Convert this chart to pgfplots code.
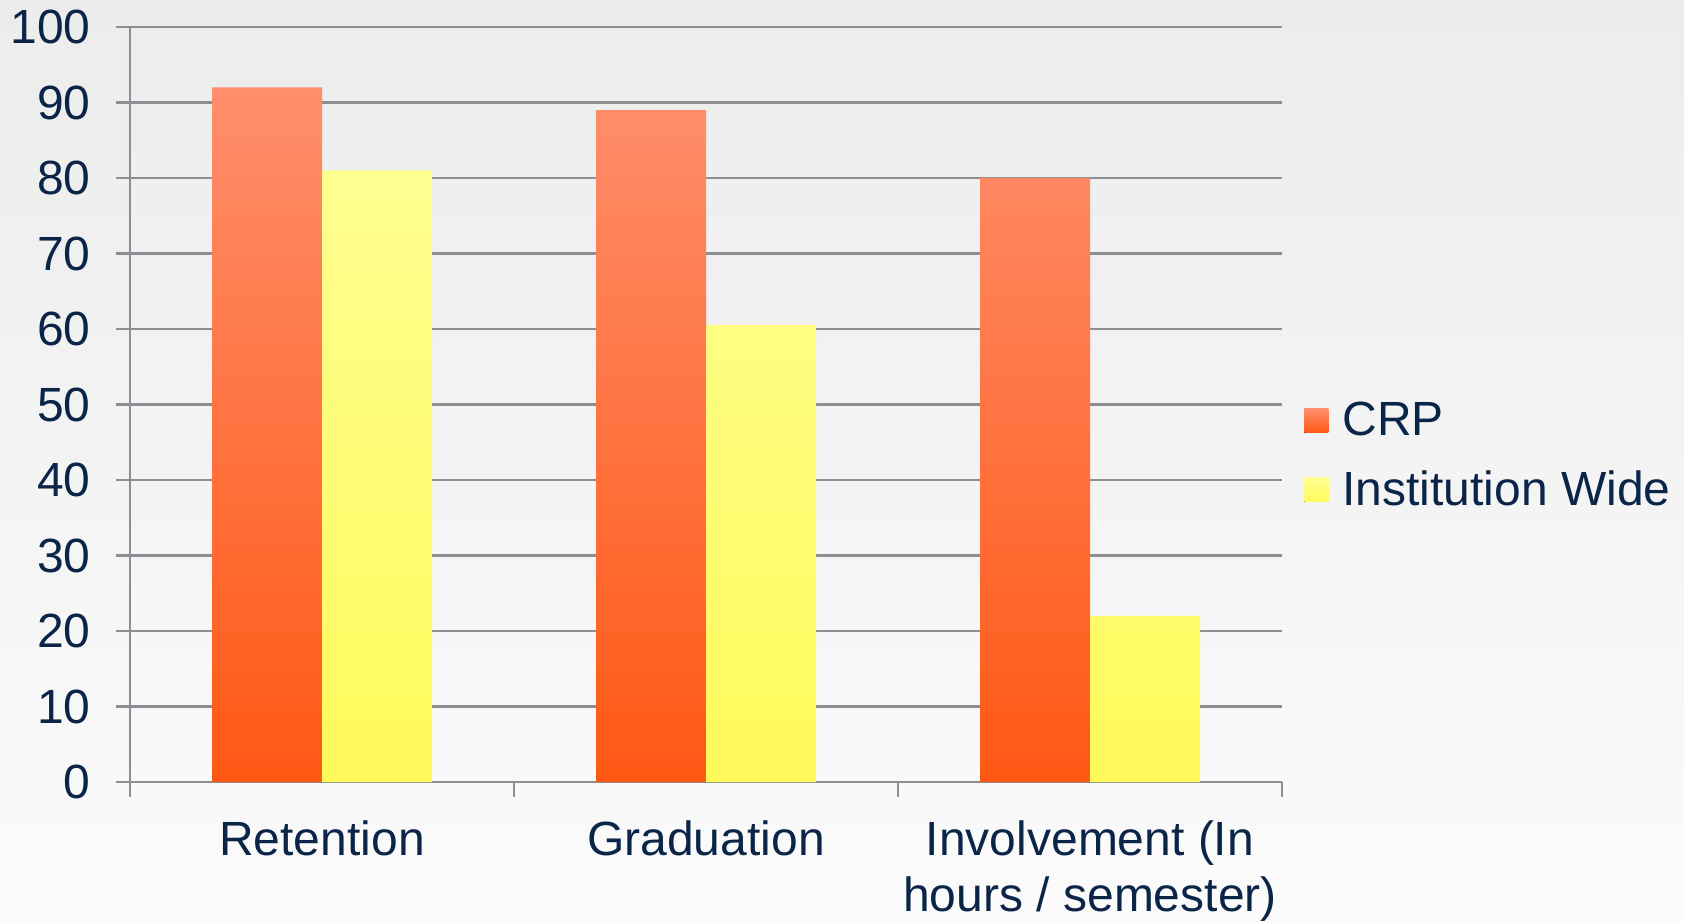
\documentclass[border=0pt]{standalone}
\usepackage{pgfplots}
\pgfplotsset{compat=1.18}
\usepackage{fontspec}
\setmainfont{Liberation Sans}
\definecolor{navy}{RGB}{10,37,72}
\definecolor{gridc}{RGB}{140,142,148}
\definecolor{crptop}{RGB}{255,142,108}
\definecolor{crpbot}{RGB}{255,88,20}
\definecolor{insttop}{RGB}{255,255,145}
\definecolor{instbot}{RGB}{255,250,90}
\definecolor{bgtop}{RGB}{236,236,236}
\definecolor{bgbot}{RGB}{251,251,251}
\begin{document}
\begin{tikzpicture}
\useasboundingbox (0,0) rectangle (842pt,460.5pt);
\shade[top color=bgtop,bottom color=bgbot] (0,0) rectangle (842pt,460.5pt);
\begin{axis}[
  at={(65pt,69.5pt)}, anchor=south west,
  scale only axis, width=576pt, height=377.5pt,
  xmin=-0.5, xmax=2.5, ymin=0, ymax=100,
  ybar=0pt, bar width=55pt,
  axis lines*=left,
  axis line style={draw=gridc, line width=0.6pt},
  ytick={0,10,...,100}, ymajorgrids,
  grid style={gridc, line width=1.1pt},
  xtick={0,1,2},
  xticklabels={Retention,Graduation,{Involvement (In\\hours / semester)}},
  minor xtick={-0.5,0.5,1.5,2.5},
  tick align=outside,
  major tick length=7pt, minor tick length=7.5pt,
  major x tick style={draw=none},
  minor x tick style={draw=gridc, line width=0.6pt},
  ytick style={draw=gridc, line width=1.1pt},
  tick label style={font=\fontsize{24}{28}\selectfont, text=navy},
  /pgf/number format/assume math mode=true,
  yticklabel style={anchor=east, inner sep=0pt, xshift=-12.5pt},
  xticklabel style={align=center, anchor=north, inner sep=0pt, yshift=-12pt},
  legend style={at={(1,0.435)}, anchor=west, xshift=11pt, yshift=-1pt, draw=none, fill=none,
    font=\fontsize{24}{28}\selectfont, text=navy, row sep=12pt, inner sep=0pt},
  legend cell align=left,
  legend image code/.code={\fill[#1] (0pt,-6pt) rectangle (12pt,6pt); \path (12pt,0) -- (17pt,0);},
]
\addplot[draw=none, top color=crptop, bottom color=crpbot]
  coordinates {(0,92) (1,89) (2,80)};
\addlegendentry{CRP}
\addplot[draw=none, top color=insttop, bottom color=instbot]
  coordinates {(0,81) (1,60.5) (2,22)};
\addlegendentry{Institution Wide}
\end{axis}
\end{tikzpicture}
\end{document}
